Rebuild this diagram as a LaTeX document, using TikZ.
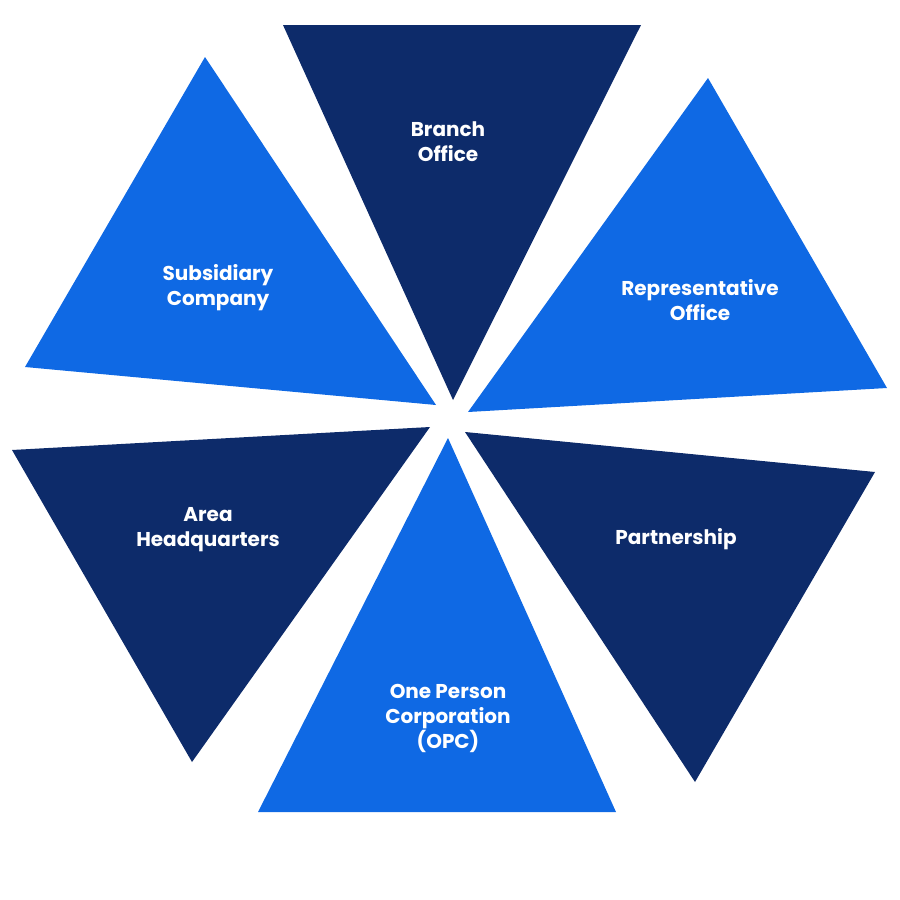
\documentclass[tikz,border=0pt]{standalone}
\usepackage{fontspec}
\setmainfont{Poppins}
\definecolor{darkb}{HTML}{0D2B6A}
\definecolor{lightb}{HTML}{0F69E4}
\begin{document}
\begin{tikzpicture}[x=1pt,y=-1pt,
  lbl/.style={text=white,font=\bfseries\fontsize{20}{25}\selectfont,align=center}]
\useasboundingbox (0,0) rectangle (900,900);
\fill[darkb] (283,25) -- (641,25) -- (453,400) -- cycle;
\fill[lightb] (708,78) -- (887,388) -- (468,412) -- cycle;
\fill[darkb] (465,432) -- (875,472) -- (695,782) -- cycle;
\fill[lightb] (448,438) -- (616,812) -- (258,812) -- cycle;
\fill[darkb] (12,450) -- (430,427) -- (192,762) -- cycle;
\fill[lightb] (205,57) -- (25,367) -- (436,405) -- cycle;
\node[lbl] (b) at (448,142) {Branch\\Office};
\node[lbl] (r) at (700,300) {Representative\\Office};
\node[lbl] (p) at (676,539) {Partnership};
\node[lbl] (o) at (448,718) {One Person\\Corporation\\(OPC)};
\node[lbl] (a) at (208,530) {Area\\Headquarters};
\node[lbl] (s) at (218,288) {Subsidiary\\Company};
\end{tikzpicture}
\end{document}
